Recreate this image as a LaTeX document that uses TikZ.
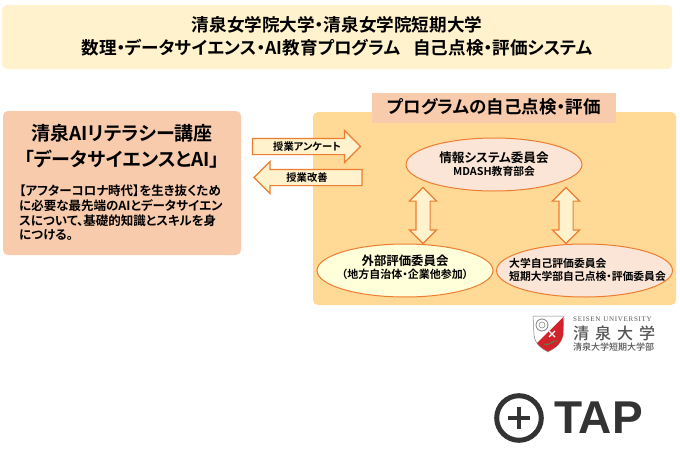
\documentclass[tikz,border=0pt]{standalone}
\usepackage{fontspec}
\setmainfont{Noto Sans}
\newfontfamily\jpb{Noto Sans CJK JP Bold}[RawFeature=+palt]
\newfontfamily\jpm{Noto Sans CJK JP Medium}
\newfontfamily\srf{Liberation Serif}
\newfontfamily\tapfont{Liberation Sans}
\usetikzlibrary{shapes.geometric,shapes.arrows}
\definecolor{creamC}{HTML}{FFF2CC}
\definecolor{peachC}{HTML}{F8CBAD}
\definecolor{sandC}{HTML}{FFD996}
\definecolor{edgeC}{HTML}{ED7D31}
\definecolor{paleC}{HTML}{FBE5D6}
\definecolor{yelC}{HTML}{FFFFD9}
\definecolor{darkC}{HTML}{333333}
\definecolor{logoC}{HTML}{555555}
\definecolor{redC}{HTML}{D2232A}
\tikzset{
 x=1pt,y=-1pt,
 bigbox/.style={rounded corners=5pt,draw=none},
 txt/.style={inner sep=0,font=\jpb,text=black,align=center},
 oval/.style={ellipse,draw=edgeC,line width=1pt,inner sep=0,minimum width=176pt,minimum height=53pt,align=center},
 harrow/.style={single arrow,draw=edgeC,fill=creamC,line width=1.2pt,inner sep=0,minimum height=108pt,single arrow head extend=8pt},
 varrow/.style={double arrow,draw=edgeC,fill=creamC,line width=1.2pt,inner sep=0,minimum height=56pt,double arrow head extend=6.5pt,shape border rotate=90},
}
\begin{document}
\begin{tikzpicture}
\useasboundingbox (0,0) rectangle (680,455);
\fill[white] (0,0) rectangle (680,455);
% header
\fill[creamC,bigbox] (2,5) rectangle (672,69);
\node[txt,font=\jpb\fontsize{17.6}{20}\selectfont] (h1) at (337,24.5) {清泉女学院大学・清泉女学院短期大学};
\node[txt,font=\jpb\fontsize{17.6}{20}\selectfont] (h2) at (337,47.5) {数理・データサイエンス・AI教育プログラム\hspace{13pt}自己点検・評価システム};
% left box
\fill[peachC,bigbox] (3,111) rectangle (241,255);
\node[txt,font=\jpb\fontsize{19}{21}\selectfont] (l1) at (122,133) {清泉AIリテラシー講座};
\node[txt,font=\jpb\fontsize{19}{21}\selectfont] (l2) at (122,159) {「データサイエンスとAI」};
\node[txt,anchor=west,font=\jpb\fontsize{12.5}{14}\selectfont] (b1) at (19,191) {【アフターコロナ時代】を生き抜くため};
\node[txt,anchor=west,font=\jpb\fontsize{12.5}{14}\selectfont] (b2) at (19,206) {に必要な最先端のAIとデータサイエン};
\node[txt,anchor=west,font=\jpb\fontsize{12.5}{14}\selectfont] (b3) at (19,221) {スについて、基礎的知識とスキルを身};
\node[txt,anchor=west,font=\jpb\fontsize{12.5}{14}\selectfont] (b4) at (19,235) {につける。};
% right panel
\fill[sandC,bigbox] (313,112) rectangle (676,305);
\fill[peachC] (372,93) rectangle (616,123);
\node[txt,font=\jpb\fontsize{17.5}{19}\selectfont] (pt) at (494,107) {プログラムの自己点検・評価};
% horizontal arrows
\node[harrow] (a1) at (302.5,146.5) {\rule{0pt}{15pt}};
\node[txt,font=\jpb\fontsize{10.3}{12}\selectfont] (a1t) at (307,147) {授業アンケート};
\node[harrow,shape border rotate=180] (a2) at (312,177.5) {\rule{0pt}{15pt}};
\node[txt,font=\jpb\fontsize{10.3}{12}\selectfont] (a2t) at (307,177.5) {授業改善};
% ellipses
\node[oval,fill=paleC] (e1) at (494,164.5) {};
\node[txt,font=\jpb\fontsize{12.6}{14}\selectfont] (e1a) at (494,157.5) {情報システム委員会};
\node[txt,font=\jpb\fontsize{10.8}{12}\selectfont] (e1b) at (494,171.5) {MDASH教育部会};
\node[oval,fill=yelC] (e2) at (405,270.5) {};
\node[txt,font=\jpb\fontsize{12.4}{14}\selectfont] (e2a) at (405,261) {外部評価委員会};
\node[txt,font=\jpb\fontsize{11}{13}\selectfont] (e2b) at (405,274) {（地方自治体・企業他参加）};
\node[oval,fill=paleC] (e3) at (584.5,270.5) {};
\node[txt,anchor=west,font=\jpb\fontsize{10.8}{12}\selectfont] (e3a) at (509,263.5) {大学自己評価委員会};
\node[txt,anchor=west,font=\jpb\fontsize{10.8}{12}\selectfont] (e3b) at (509,276.5) {短期大学部自己点検・評価委員会};
% double arrows
\node[varrow] (d1) at (423,215.5) {\rule{13pt}{0pt}};
\node[varrow] (d2) at (566,215.5) {\rule{13pt}{0pt}};
% logo
\filldraw[draw=gray,fill=white,line width=0.5pt] (533,316) -- (564,316) -- (563,335) .. controls (561,345) and (553,349) .. (548,352) .. controls (543,349) and (535,345) .. (534,335) -- cycle;
\fill[redC] (563.5,317) -- (563,335) .. controls (561,345) and (553,349) .. (548,351.5) .. controls (544,349.5) and (540,347) .. (537,343) -- cycle;
\draw[gray,line width=0.8pt] (542,325) circle (6);
\draw[gray,line width=0.5pt] (542,325) circle (3);
\draw[white,line width=1.2pt] (549,331) -- (555,337) (555,331) -- (549,337);
\draw[green!35!black!70,line width=0.9pt] (544,344) .. controls (550,347) and (552,339) .. (558,341);
\node[inner sep=0,font=\srf\fontsize{7}{8}\selectfont,text=logoC,anchor=west] (lg1) at (573,319) {S\kern.7pt E\kern.7pt I\kern.7pt S\kern.7pt E\kern.7pt N\kern3pt U\kern.7pt N\kern.7pt I\kern.7pt V\kern.7pt E\kern.7pt R\kern.7pt S\kern.7pt I\kern.7pt T\kern.7pt Y};
\node[inner sep=0,font=\jpm\fontsize{16}{18}\selectfont,text=logoC,anchor=west] (lg2) at (573,333) {清\hspace{6pt}泉\hspace{6pt}大\hspace{6pt}学};
\node[inner sep=0,font=\jpm\fontsize{9}{10}\selectfont,text=logoC,anchor=west] (lg3) at (573,347) {清泉大学短期大学部};
% TAP
\draw[darkC,line width=5pt] (519,418) circle (22.3);
\draw[darkC,line width=4pt] (508,418) -- (530,418) (519,407) -- (519,429);
\node[inner sep=0,anchor=west,text=darkC,font=\tapfont\bfseries\fontsize{46}{50}\selectfont] (tap) at (554,418) {TAP};
\end{tikzpicture}
\end{document}
